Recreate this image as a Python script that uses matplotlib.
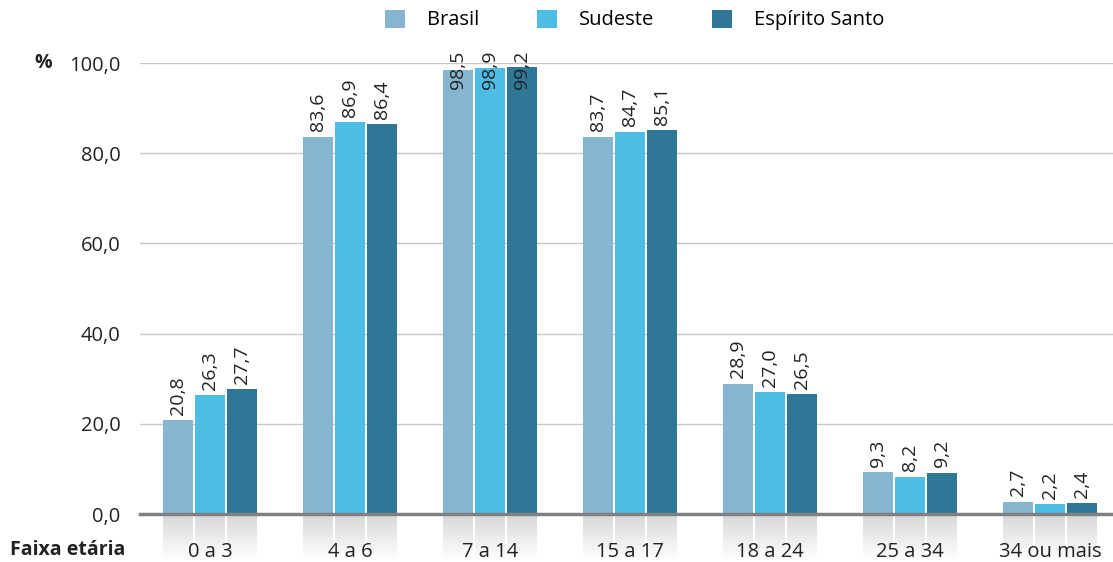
import matplotlib as mpl
import matplotlib.pyplot as plt
import numpy as np
from matplotlib.patches import Patch

mpl.rcParams.update({
    "font.family": ["Open Sans", "DejaVu Sans"],
    "font.size": 14,
})

# ── Data ──────────────────────────────────────────────────────────
categories = ["0 a 3", "4 a 6", "7 a 14", "15 a 17", "18 a 24", "25 a 34", "34 ou mais"]
series_names = ["Brasil", "Sudeste", "Espírito Santo"]
brasil = [20.8, 83.6, 98.5, 83.7, 28.9, 9.3, 2.7]
sudeste = [26.3, 86.9, 98.9, 84.7, 27.0, 8.2, 2.2]
espirito_santo = [27.7, 86.4, 99.2, 85.1, 26.5, 9.2, 2.4]
yticks = [0, 20, 40, 60, 80, 100]

colors = ["#86B5CF", "#4DBDE6", "#2E7797"]
series = [brasil, sudeste, espirito_santo]

LABEL_CAP = 93.0  # labels of the tallest bars are pushed down into the bars

# ── Plot ──────────────────────────────────────────────────────────
fig = plt.figure(figsize=(11.13, 5.62), dpi=100)
ax = fig.add_axes([0.1258, 0.0854, 0.8742, 0.8025])

x = np.arange(len(categories))
width = 0.214
step = 0.229

# grey fading "reflection" under each bar (light grey at the axis, white below)
grad = np.linspace(1.0, 0.84, 64).reshape(-1, 1)
for k in range(3):
    for xi in x + (k - 1) * step:
        ax.imshow(grad, extent=(xi - width / 2, xi + width / 2, -10.5, 0),
                  origin="lower", cmap="gray", vmin=0, vmax=1, aspect="auto",
                  clip_on=False, zorder=0.2)

for k, (vals, col) in enumerate(zip(series, colors)):
    xs = x + (k - 1) * step
    ax.bar(xs, vals, width=width, color=col, zorder=3, label=series_names[k])
    for xi, v in zip(xs, vals):
        ax.annotate(f"{v:.1f}".replace(".", ","), (xi, min(v, LABEL_CAP)),
                    xytext=(0, 4), textcoords="offset points",
                    rotation=90, ha="center", va="bottom",
                    fontsize=14, color="#222222", clip_on=False, zorder=5)

ax.set_xlim(-0.5, 6.45)
ax.set_ylim(0, 100)
ax.set_yticks(yticks)
ax.set_yticklabels([f"{t:.1f}".replace(".", ",") for t in yticks])
ax.set_xticks(x)
ax.set_xticklabels(categories)
ax.tick_params(axis="y", length=0, pad=14, labelsize=14.5, labelcolor="#222222")
ax.tick_params(axis="x", length=0, pad=20, labelsize=14.5, labelcolor="#222222")

ax.grid(axis="y", color="#C8C8C8", linewidth=1.0)
ax.set_axisbelow(True)
for s in ["top", "right", "left"]:
    ax.spines[s].set_visible(False)
ax.spines["bottom"].set_color("#808080")
ax.spines["bottom"].set_linewidth(2.5)
ax.spines["bottom"].set_zorder(4)

fig.text(43 / 1113, 1 - 63 / 562, "%", fontsize=14, fontweight="bold",
         ha="center", va="center", color="#222222")
fig.text(10 / 1113, 1 - 550 / 562, "Faixa etária", fontsize=14, fontweight="bold",
         ha="left", va="center", color="#222222")

handles = [Patch(facecolor=c, label=n) for c, n in zip(colors, series_names)]
fig.legend(handles=handles, ncol=3, loc="center", frameon=False,
           bbox_to_anchor=(0.5705, 1 - 20 / 562), fontsize=14.5,
           handlelength=1.0, handleheight=1.0, handletextpad=1.1,
           columnspacing=2.85)

fig.savefig("out.png", dpi=100)
